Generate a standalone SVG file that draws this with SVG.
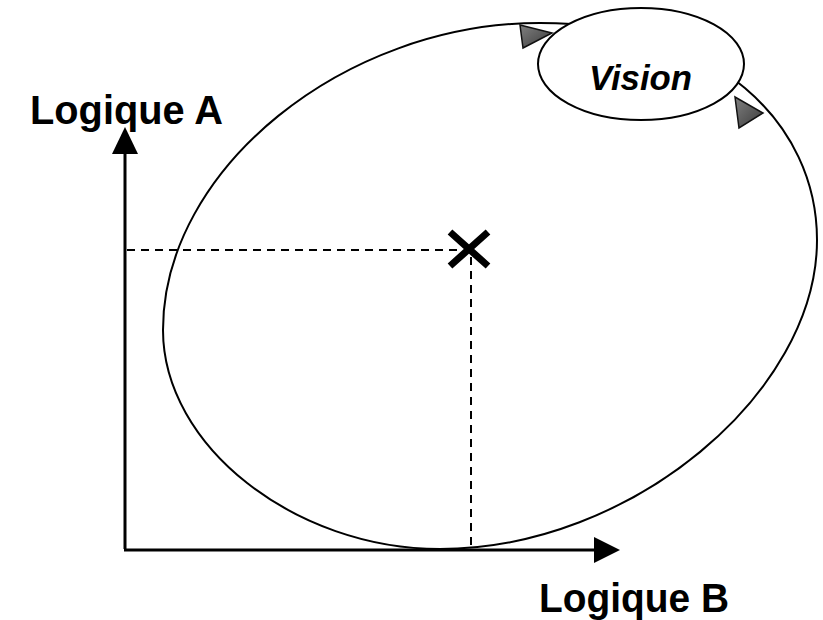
<svg xmlns="http://www.w3.org/2000/svg" width="823" height="620" viewBox="0 0 823 620">
<style>
.lbl{font-family:"Liberation Sans",Arial,sans-serif;font-weight:bold;fill:#000}
.dash{stroke:#000;stroke-width:2;stroke-dasharray:8,6;fill:none}
.axis{stroke:#000;stroke-width:3;fill:none}
.tri{fill:url(#g);stroke:#111;stroke-width:1.5;stroke-linejoin:miter}
</style>
<defs>
<linearGradient id="g" x1="0" y1="0" x2="1" y2="1">
<stop offset="0" stop-color="#808080"/>
<stop offset="1" stop-color="#3a3a3a"/>
</linearGradient>
</defs>
<rect width="823" height="620" fill="#fff"/>
<g id="cycle">
<path d="M540,23 C717,23 817,124 817,240 C817,393 631,549 440,549 C295,549 163,446 163,330 C163,169 344,23 540,23 Z" fill="none" stroke="#000" stroke-width="2"/>
</g>
<g id="connectors">
<line class="axis" x1="125" y1="549" x2="125" y2="150"/>
<polygon points="125,127 112,154 138,154" fill="#000"/>
<line class="axis" x1="124" y1="550" x2="597" y2="550"/>
<polygon points="620,550 594,537 594,563" fill="#000"/>
<line class="dash" x1="127" y1="250" x2="462" y2="250"/>
<line class="dash" x1="471" y1="257" x2="471" y2="548"/>
<polygon class="tri" points="520,25 552,33 523,48"/>
<polygon class="tri" points="735,97 763,113 739,128"/>
</g>
<g id="vision">
<ellipse cx="641" cy="64" rx="103" ry="56" fill="#fff" stroke="#000" stroke-width="2"/>
<text class="lbl" x="589" y="90" font-size="35" font-style="italic" textLength="103" lengthAdjust="spacingAndGlyphs">Vision</text>
</g>
<g id="point">
<path d="M450,232 L488,266 M488,232 L450,266" stroke="#000" stroke-width="7" fill="none"/>
</g>
<g id="label-a">
<text class="lbl" x="30" y="124" font-size="40" textLength="193" lengthAdjust="spacingAndGlyphs">Logique A</text>
</g>
<g id="label-b">
<text class="lbl" x="539" y="612" font-size="40" textLength="190" lengthAdjust="spacingAndGlyphs">Logique B</text>
</g>
</svg>
